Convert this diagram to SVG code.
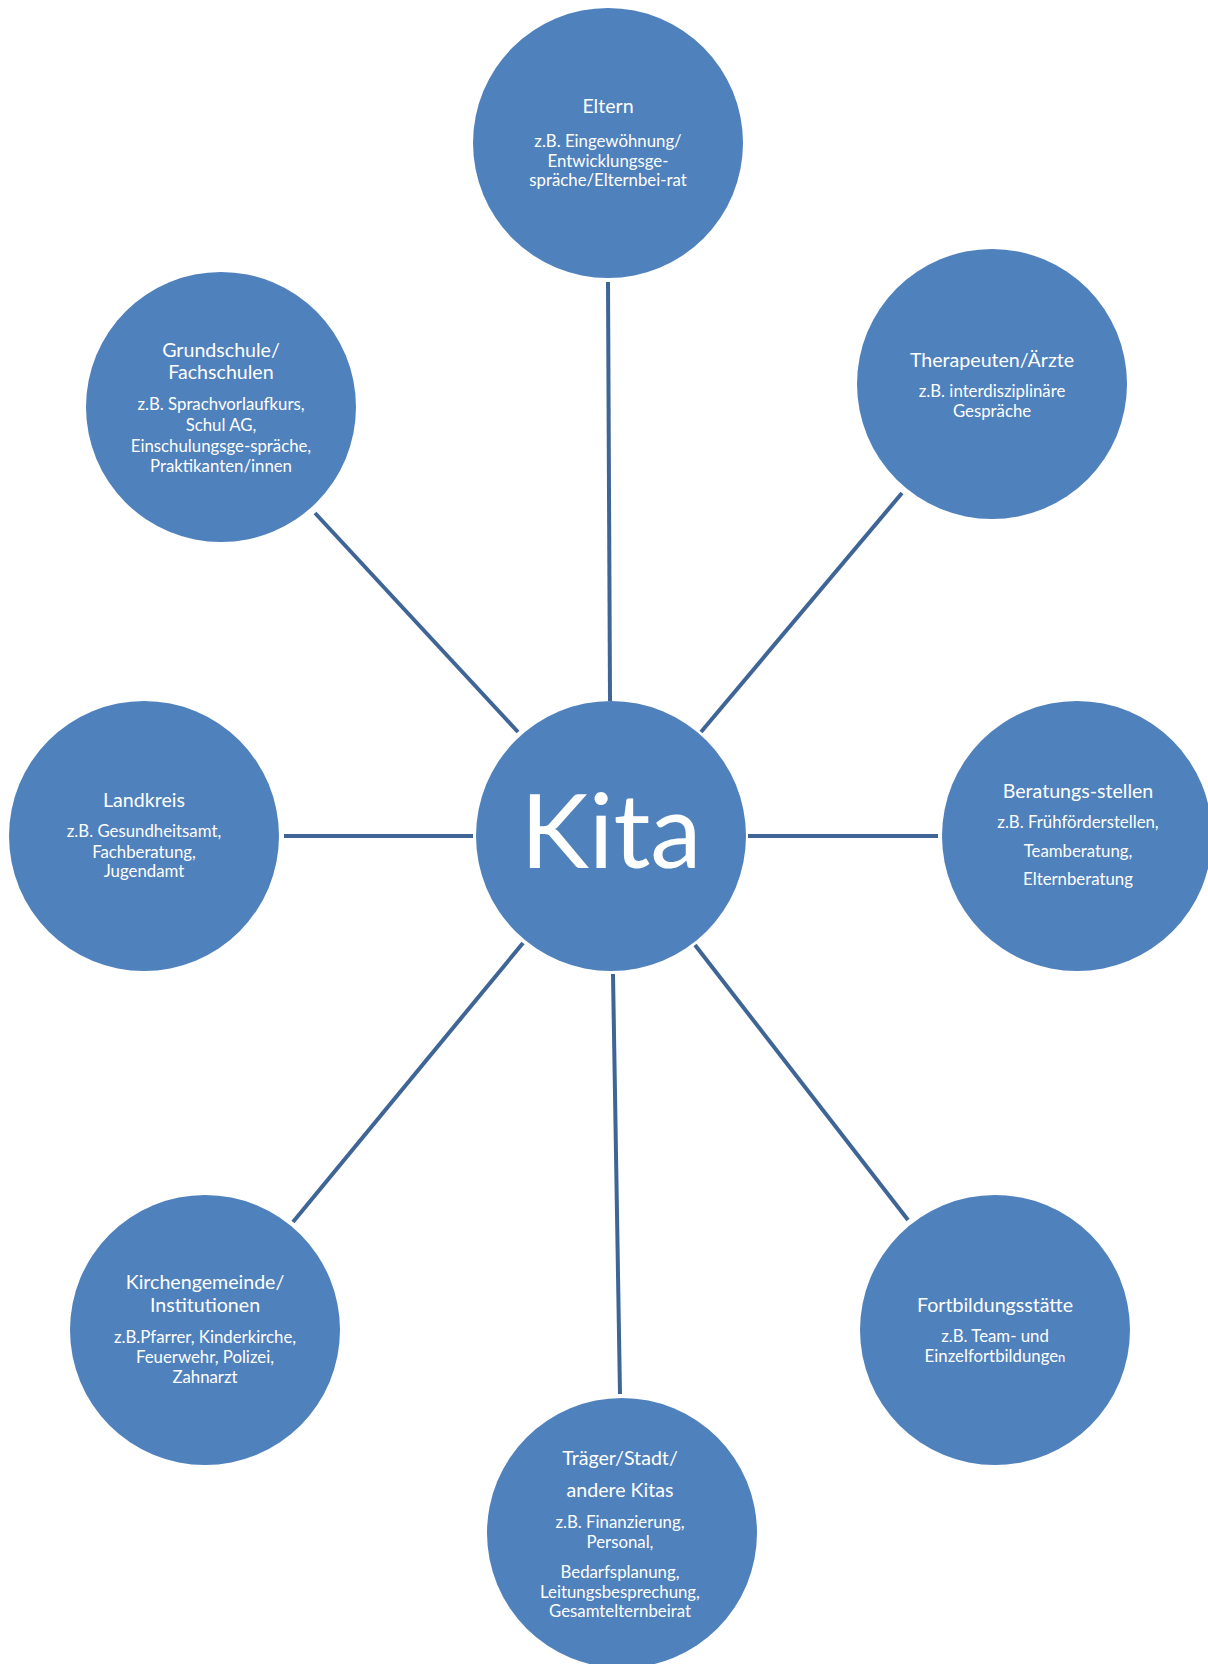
<svg xmlns="http://www.w3.org/2000/svg" width="1208" height="1664" viewBox="0 0 1208 1664">
<style>
.node{fill:#4F81BD}
.t{font-family:Lato,"Open Sans","Liberation Sans",sans-serif;fill:#FFFFFF;text-anchor:middle}
.h{font-size:19.6px}
.s{font-size:16.8px}
.k{font-size:103px}
.edge{stroke:#3E6596;stroke-width:4;fill:none}
</style>
<rect width="1208" height="1664" fill="#FFFFFF"/>
<g id="connectors">
<line class="edge" x1="608" y1="282" x2="610" y2="701"/>
<line class="edge" x1="902" y1="493" x2="701" y2="732"/>
<line class="edge" x1="315" y1="513" x2="518" y2="732"/>
<line class="edge" x1="284" y1="836" x2="473" y2="836"/>
<line class="edge" x1="748" y1="836" x2="938" y2="836"/>
<line class="edge" x1="523" y1="943" x2="293" y2="1222"/>
<line class="edge" x1="613" y1="974" x2="620" y2="1394"/>
<line class="edge" x1="695" y1="945" x2="908" y2="1220"/>
</g>
<g id="kita">
<circle class="node" cx="611" cy="836" r="135"/>
<text class="t k" x="611" y="868">Kita</text>
</g>
<g id="eltern">
<circle class="node" cx="608" cy="143" r="135"/>
<text class="t h" x="608" y="113">Eltern</text>
<text class="t s" x="608" y="147">z.B. Eingewöhnung/</text>
<text class="t s" x="608" y="167">Entwicklungsge-</text>
<text class="t s" x="608" y="186">spräche/Elternbei-rat</text>
</g>
<g id="therapeuten">
<circle class="node" cx="992" cy="384" r="135"/>
<text class="t h" x="992" y="367">Therapeuten/Ärzte</text>
<text class="t s" x="992" y="397">z.B. interdisziplinäre</text>
<text class="t s" x="992" y="417">Gespräche</text>
</g>
<g id="grundschule">
<circle class="node" cx="221" cy="407" r="135"/>
<text class="t h" x="221" y="357">Grundschule/</text>
<text class="t h" x="221" y="379">Fachschulen</text>
<text class="t s" x="221" y="410">z.B. Sprachvorlaufkurs,</text>
<text class="t s" x="221" y="431">Schul AG,</text>
<text class="t s" x="221" y="452">Einschulungsge-spräche,</text>
<text class="t s" x="221" y="472">Praktikanten/innen</text>
</g>
<g id="landkreis">
<circle class="node" cx="144" cy="836" r="135"/>
<text class="t h" x="144" y="807">Landkreis</text>
<text class="t s" x="144" y="837">z.B. Gesundheitsamt,</text>
<text class="t s" x="144" y="858">Fachberatung,</text>
<text class="t s" x="144" y="877">Jugendamt</text>
</g>
<g id="beratungsstellen">
<circle class="node" cx="1077" cy="836" r="135"/>
<text class="t h" x="1078" y="798">Beratungs-stellen</text>
<text class="t s" x="1078" y="828">z.B. Frühförderstellen,</text>
<text class="t s" x="1078" y="857">Teamberatung,</text>
<text class="t s" x="1078" y="885">Elternberatung</text>
</g>
<g id="kirchengemeinde">
<circle class="node" cx="205" cy="1330" r="135"/>
<text class="t h" x="205" y="1289">Kirchengemeinde/</text>
<text class="t h" x="205" y="1312">Institutionen</text>
<text class="t s" x="205" y="1343">z.B.Pfarrer, Kinderkirche,</text>
<text class="t s" x="205" y="1363">Feuerwehr, Polizei,</text>
<text class="t s" x="205" y="1383">Zahnarzt</text>
</g>
<g id="fortbildung">
<circle class="node" cx="995" cy="1330" r="135"/>
<text class="t h" x="995" y="1312">Fortbildungsstätte</text>
<text class="t s" x="995" y="1342">z.B. Team- und</text>
<text class="t s" x="995" y="1362">Einzelfortbildunge<tspan font-size="13px">n</tspan></text>
</g>
<g id="traeger">
<circle class="node" cx="622" cy="1533" r="135"/>
<text class="t h" x="620" y="1465">Träger/Stadt/</text>
<text class="t h" x="620" y="1497">andere Kitas</text>
<text class="t s" x="620" y="1528">z.B. Finanzierung,</text>
<text class="t s" x="620" y="1548">Personal,</text>
<text class="t s" x="620" y="1578">Bedarfsplanung,</text>
<text class="t s" x="620" y="1598">Leitungsbesprechung,</text>
<text class="t s" x="620" y="1617">Gesamtelternbeirat</text>
</g>
</svg>
